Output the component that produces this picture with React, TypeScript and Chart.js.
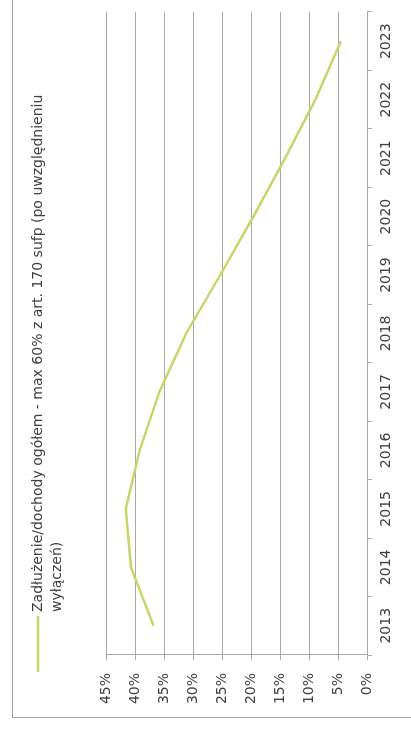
import React, { useEffect, useRef } from "react";
import { Chart, registerables } from "chart.js";

Chart.register(...registerables);

const years = ["2013", "2014", "2015", "2016", "2017", "2018", "2019", "2020", "2021", "2022", "2023"];
const debtRatio = [36.8, 40.7, 41.6, 39.2, 35.8, 31.2, 25.3, 19.6, 14.1, 8.9, 4.5];
const seriesLabel = "Zadłużenie/dochody ogółem - max 60% z art. 170 sufp (po uwzględnieniu wyłączeń)";
const legendLines = ["Zadłużenie/dochody ogółem - max 60% z art. 170 sufp (po uwzględnieniu", "wyłączeń)"];
const yMin = 0;
const yMax = 45;
const yStep = 5;

const W = 732;
const H = 411;
const FONT = "'DejaVu Sans', sans-serif";
const TEXT = "#404040";
const GRID = "#a8a8a8";
const LINE = "#c2d66a";

const framePlugin = {
  id: "frameAndLegend",
  beforeDraw(chart: any) {
    const ctx = chart.ctx;
    ctx.save();
    ctx.fillStyle = "#ffffff";
    ctx.fillRect(0, 0, W, H);
    ctx.strokeStyle = "#a0a0a0";
    ctx.lineWidth = 1;
    ctx.strokeRect(14.5, 12.5, W + 20, H + 20);
    ctx.restore();
  },
  afterDraw(chart: any) {
    const ctx = chart.ctx;
    ctx.save();
    ctx.strokeStyle = LINE;
    ctx.lineWidth = 2.5;
    ctx.beginPath();
    ctx.moveTo(60, 38);
    ctx.lineTo(116, 38);
    ctx.stroke();
    ctx.fillStyle = TEXT;
    ctx.font = `14px ${FONT}`;
    ctx.textBaseline = "middle";
    ctx.textAlign = "left";
    legendLines.forEach((t, i) => ctx.fillText(t, 120, 38 + i * 19));
    ctx.restore();
  },
};

export default function App() {
  const ref = useRef<HTMLCanvasElement | null>(null);
  useEffect(() => {
    if (!ref.current) return;
    const chart = new Chart(ref.current, {
      type: "line",
      data: {
        labels: years,
        datasets: [
          {
            label: seriesLabel,
            data: debtRatio,
            borderColor: LINE,
            backgroundColor: LINE,
            borderWidth: 2.5,
            pointRadius: 0,
            tension: 0,
            fill: false,
          },
        ],
      },
      options: {
        responsive: false,
        animation: false,
        devicePixelRatio: 1,
        layout: { padding: { left: 14, top: 106, right: 12, bottom: 0 } },
        plugins: { legend: { display: false }, tooltip: { enabled: false } },
        scales: {
          x: {
            type: "category",
            offset: true,
            grid: { display: true, drawOnChartArea: false, drawTicks: true, tickLength: 5, offset: true, color: GRID },
            border: { display: true, color: GRID },
            ticks: { color: TEXT, font: { family: FONT, size: 14 }, padding: 6, maxRotation: 0, autoSkip: false },
            afterFit(scale: any) {
              scale.height = 44;
            },
          },
          y: {
            min: yMin,
            max: yMax,
            grid: { color: GRID, drawTicks: true, tickLength: 5 },
            border: { display: true, color: GRID },
            ticks: {
              stepSize: yStep,
              color: TEXT,
              font: { family: FONT, size: 14 },
              padding: 13,
              callback: (v: any) => `${v}%`,
            },
            afterFit(scale: any) {
              scale.width = 63;
            },
          },
        },
      },
      plugins: [framePlugin],
    });
    return () => chart.destroy();
  }, []);

  return (
    <div
      style={{
        position: "fixed",
        left: 0,
        top: 0,
        width: W,
        height: H,
        transformOrigin: "0 0",
        transform: `rotate(-90deg) translate(-${W}px, 0)`,
        background: "#fff",
      }}
    >
      <canvas ref={ref} width={W} height={H} style={{ width: W, height: H, display: "block" }} />
    </div>
  );
}
